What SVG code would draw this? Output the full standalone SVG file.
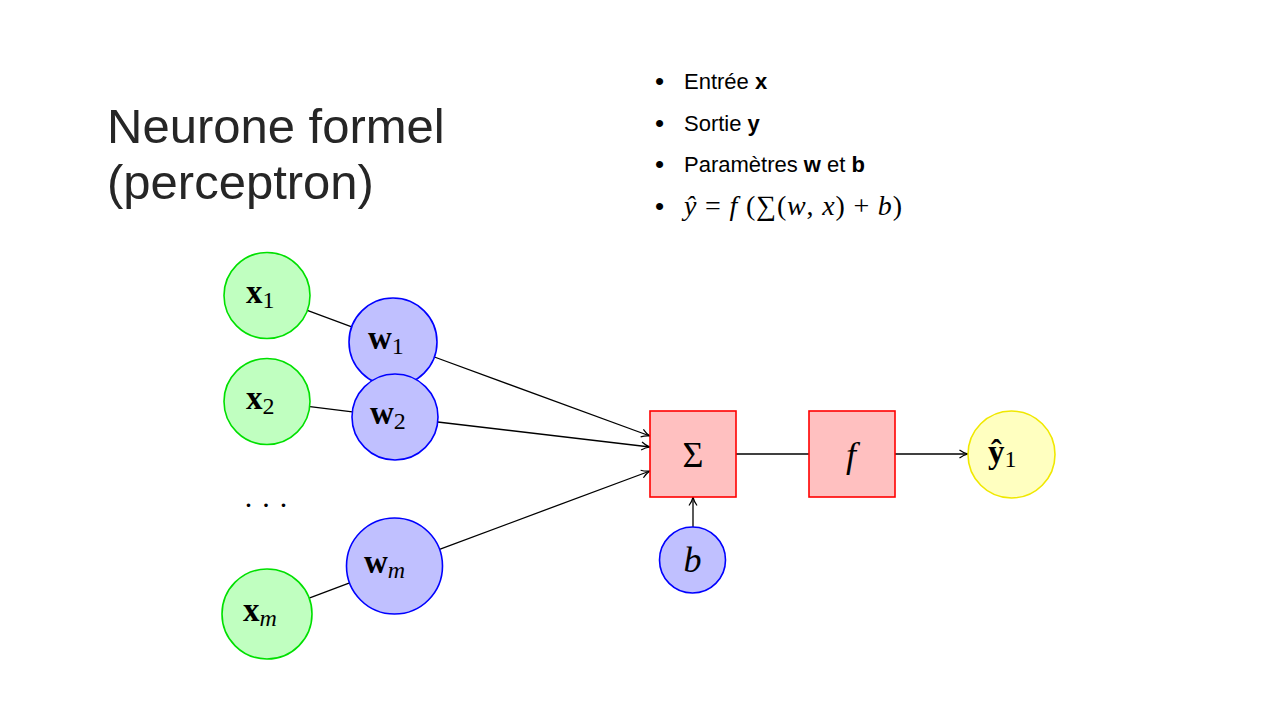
<svg xmlns="http://www.w3.org/2000/svg" width="1279" height="718" viewBox="0 0 1279 718">
<defs>
<style>
.title{font-family:"Liberation Sans",Arial,sans-serif;font-size:49px;fill:#262626;}
.bul{font-family:"Liberation Sans",Arial,sans-serif;font-size:22px;fill:#000;}
.dot{font-family:"Liberation Sans",Arial,sans-serif;font-size:26px;fill:#000;}
.math{font-family:"Liberation Serif","DejaVu Serif",serif;fill:#000;}
.lbl{font-size:33px;font-weight:bold;}
.sub{font-size:24px;font-weight:normal;}
.in{fill:#c0ffc0;stroke:#00e000;stroke-width:1.6;}
.w{fill:#c0c0ff;stroke:#0000ff;stroke-width:1.6;}
.op{fill:#ffc0c0;stroke:#ff0000;stroke-width:1.6;}
.out{fill:#ffffc0;stroke:#f0e800;stroke-width:1.6;}
.edge{stroke:#000;stroke-width:1.3;fill:none;}
</style>
<marker id="arr" viewBox="0 0 10 10" refX="9.5" refY="5" markerWidth="10" markerHeight="10" markerUnits="userSpaceOnUse" orient="auto">
<path d="M1,1 Q5,4 9.5,5 Q5,6 1,9" fill="none" stroke="#000" stroke-width="1.2"/>
</marker>
</defs>
<rect width="1279" height="718" fill="#fff"/>
<g id="title">
<text class="title" x="107" y="143">Neurone formel</text>
<text class="title" x="107" y="199">(perceptron)</text>
</g>
<g id="bullets">
<text class="dot" x="655" y="90">•</text><text class="bul" x="684" y="89">Entrée <tspan font-weight="bold">x</tspan></text>
<text class="dot" x="655" y="132">•</text><text class="bul" x="684" y="131">Sortie <tspan font-weight="bold">y</tspan></text>
<text class="dot" x="655" y="173">•</text><text class="bul" x="684" y="172">Paramètres <tspan font-weight="bold">w</tspan> et <tspan font-weight="bold">b</tspan></text>
<text class="dot" x="655" y="215">•</text>
<text class="math" x="684" y="215" font-size="28" font-style="italic" textLength="218" lengthAdjust="spacing">ŷ <tspan font-style="normal">=</tspan> f <tspan font-style="normal">(∑(</tspan>w<tspan font-style="normal">,</tspan> x<tspan font-style="normal">) + </tspan>b<tspan font-style="normal">)</tspan></text>
</g>
<g id="connectors">
<line class="edge" x1="307.3" y1="310.4" x2="351.7" y2="326.8"/>
<line class="edge" x1="310" y1="406.7" x2="352.3" y2="411.8"/>
<line class="edge" x1="309.1" y1="598.1" x2="349.6" y2="582.9"/>
<line class="edge" x1="434.4" y1="357" x2="650" y2="436" marker-end="url(#arr)"/>
<line class="edge" x1="437.7" y1="422" x2="650" y2="447" marker-end="url(#arr)"/>
<line class="edge" x1="439.5" y1="549.3" x2="650" y2="471" marker-end="url(#arr)"/>
<line class="edge" x1="736" y1="454" x2="809" y2="454"/>
<line class="edge" x1="895" y1="454" x2="968" y2="454" marker-end="url(#arr)"/>
<line class="edge" x1="693" y1="527" x2="693" y2="497" marker-end="url(#arr)"/>
</g>
<g id="x1"><circle class="in" cx="267" cy="295.5" r="43"/><text class="math lbl" x="246" y="303">x<tspan class="sub" dy="5">1</tspan></text></g>
<g id="x2"><circle class="in" cx="267" cy="401.5" r="43"/><text class="math lbl" x="246" y="409">x<tspan class="sub" dy="5">2</tspan></text></g>
<g id="dots"><text class="math" x="266" y="515" font-size="30" text-anchor="middle">· · ·</text></g>
<g id="xm"><circle class="in" cx="267" cy="614" r="45"/><text class="math lbl" x="243" y="621">x<tspan class="sub" font-style="italic" dy="5">m</tspan></text></g>
<g id="w1"><circle class="w" cx="393" cy="342" r="44"/><text class="math lbl" x="368" y="349">w<tspan class="sub" dy="5">1</tspan></text></g>
<g id="w2"><circle class="w" cx="395" cy="417" r="43"/><text class="math lbl" x="370" y="424">w<tspan class="sub" dy="5">2</tspan></text></g>
<g id="wm"><circle class="w" cx="394.5" cy="566" r="48"/><text class="math lbl" x="364" y="573">w<tspan class="sub" font-style="italic" dy="5">m</tspan></text></g>
<g id="sum"><rect class="op" x="650" y="411" width="86" height="86"/><text class="math" x="693" y="467" font-size="36" text-anchor="middle">Σ</text></g>
<g id="f"><rect class="op" x="809" y="411" width="86" height="86"/><text class="math" x="851" y="467" font-size="36" font-style="italic" text-anchor="middle">f</text></g>
<g id="b"><circle class="w" cx="692.5" cy="560" r="33"/><text class="math" x="692.5" y="572" font-size="36" font-style="italic" text-anchor="middle">b</text></g>
<g id="yhat"><circle class="out" cx="1011.5" cy="454.5" r="43.5"/><text class="math lbl" x="988" y="463">ŷ<tspan class="sub" dy="4">1</tspan></text></g>
</svg>
